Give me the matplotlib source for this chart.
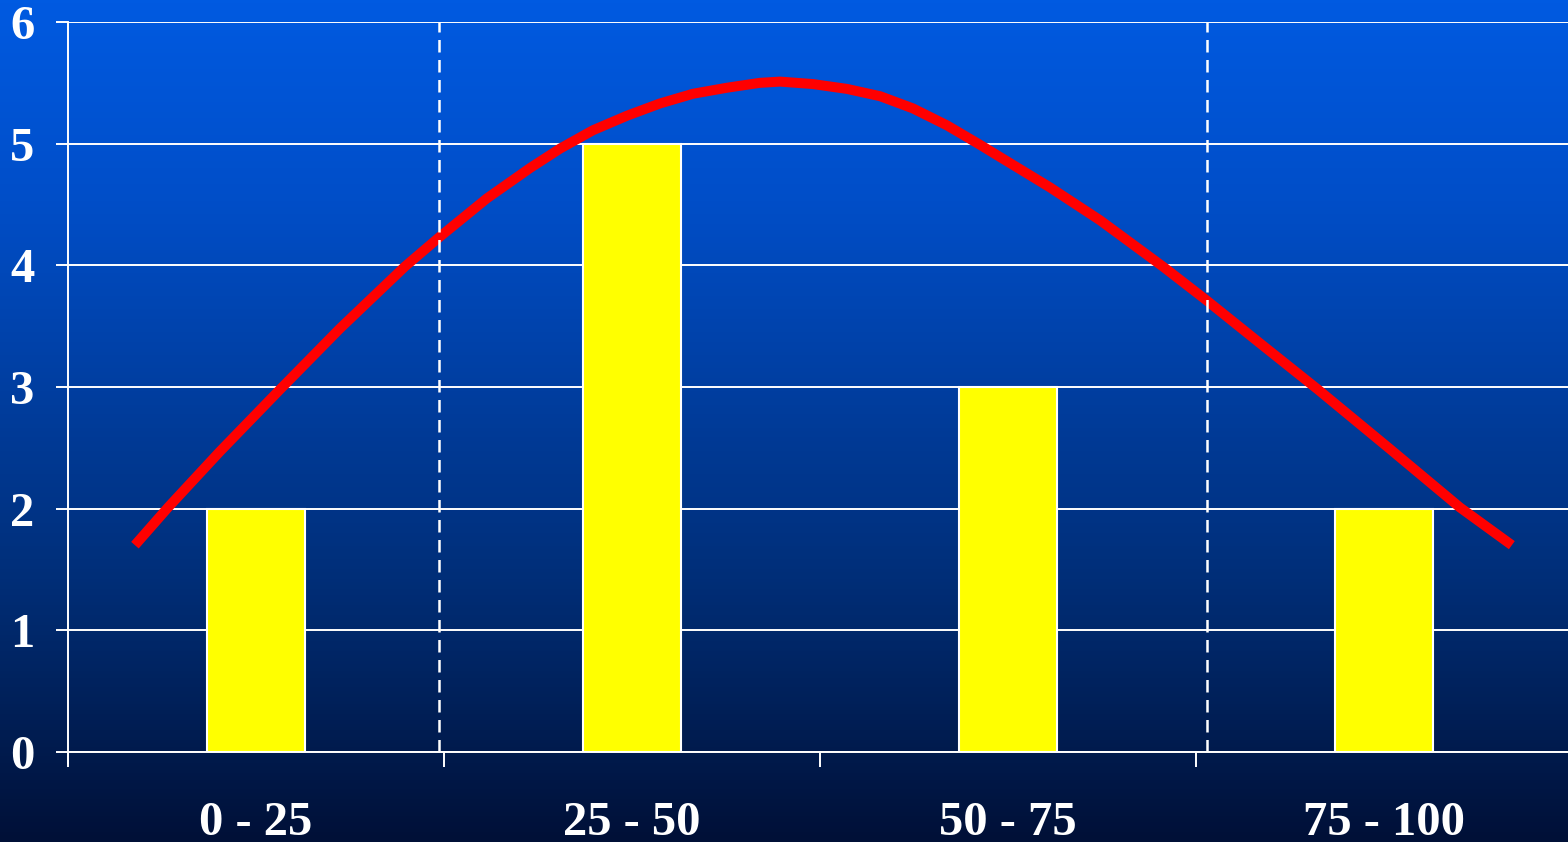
import matplotlib
matplotlib.use('Agg')

from matplotlib import pyplot as plt
from matplotlib.colors import LinearSegmentedColormap
import numpy as np

# Dados
classes = ['0 - 25', '25 - 50', '50 - 75', '75 - 100']
frequencias = [2, 5, 3, 2]

# Curva (x em unidades de classe)
curva_x = [-0.322, -0.234, -0.096, 0.064, 0.223, 0.396, 0.487, 0.614, 0.729, 0.809,
           0.896, 0.987, 1.074, 1.162, 1.253, 1.340, 1.394, 1.481, 1.572, 1.660,
           1.747, 1.838, 1.926, 1.979, 2.112, 2.245, 2.412, 2.529, 2.670, 2.824,
           3.016, 3.202, 3.340]
curva_y = [1.70, 2.01, 2.47, 2.98, 3.48, 3.99, 4.23, 4.55, 4.80, 4.96,
           5.11, 5.23, 5.33, 5.41, 5.46, 5.50, 5.51, 5.49, 5.45, 5.39,
           5.29, 5.15, 4.99, 4.89, 4.64, 4.37, 3.99, 3.71, 3.36, 2.98,
           2.49, 2.01, 1.70]

# Linhas tracejadas
tracejadas = [0.487, 2.529]

fig = plt.figure(figsize=(15.68, 8.42), dpi=100)

# Fundo em degradê
fundo = fig.add_axes([0, 0, 1, 1], zorder=-10)
cmap = LinearSegmentedColormap.from_list('fundo', [
    (0.0, (0/255, 90/255, 225/255)),
    (200/842, (0/255, 78/255, 200/255)),
    (570/842, (0/255, 47/255, 122/255)),
    (680/842, (0/255, 35/255, 95/255)),
    (1.0, (0/255, 16/255, 55/255)),
])
fundo.imshow(np.linspace(0, 1, 256).reshape(-1, 1), aspect='auto', cmap=cmap,
             extent=[0, 1, 0, 1])
fundo.axis('off')

ax = fig.add_axes([68/1568, 90/842, 1504/1568, 730/842])
ax.set_facecolor('none')

x = np.arange(len(classes))
ax.bar(x, frequencias, width=0.26, color='#FFFF00', edgecolor='white', linewidth=1.5, zorder=3)
ax.plot(curva_x, curva_y, color='#FF0000', linewidth=7.2, solid_capstyle='butt',
        solid_joinstyle='round', zorder=4)
for xv in tracejadas:
    ax.plot([xv, xv], [0, 6.03], color='white', linewidth=1.8, linestyle=(0, (5, 3)), zorder=5)

ax.set_xlim(-0.5, 3.5)
ax.set_ylim(0, 6)

# Grade horizontal
ax.set_yticks(range(0, 7))
ax.yaxis.grid(True, color='white', linewidth=1.4, zorder=1)
ax.set_axisbelow(True)

# Ticks do eixo x nas divisões, rótulos no centro
ax.set_xticks([-0.5, 0.5, 1.5, 2.5])
ax.set_xticklabels([])
ax.set_xticks(x, minor=True)
ax.set_xticklabels(classes, minor=True)
ax.tick_params(axis='x', which='major', length=11, width=1.4, color='white', direction='out')
ax.tick_params(axis='x', which='minor', length=0, pad=35)
ax.tick_params(axis='y', length=9, width=1.4, color='white', pad=15)

fonte = dict(family='Liberation Serif', weight='bold', size=35)
for lbl in ax.get_xticklabels(minor=True) + ax.get_yticklabels():
    lbl.set_fontfamily(fonte['family'])
    lbl.set_fontweight(fonte['weight'])
    lbl.set_fontsize(fonte['size'])
    lbl.set_color('white')

for lado in ['top', 'right']:
    ax.spines[lado].set_visible(False)
ax.spines['left'].set_color('white')
ax.spines['left'].set_linewidth(1.4)
ax.spines['left'].set_bounds(-0.09, 6)
ax.spines['bottom'].set_color('white')
ax.spines['bottom'].set_linewidth(1.4)

fig.savefig('out.png', dpi=100)
